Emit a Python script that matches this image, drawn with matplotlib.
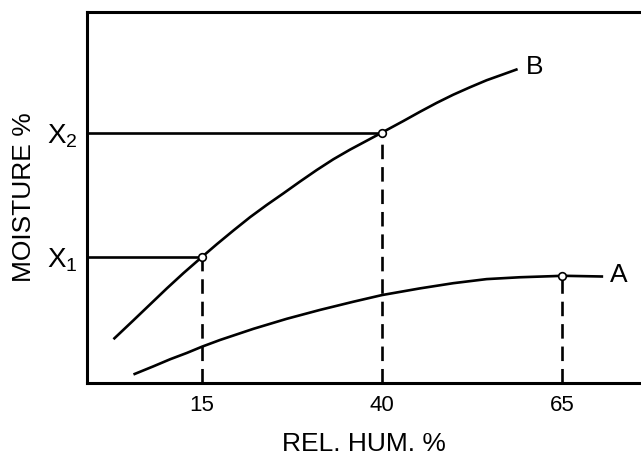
import matplotlib.pyplot as plt
import numpy as np

# Curvas (umidade relativa x umidade do material)
rh_b = [2.68, 5.46, 7.78, 10.10, 12.40, 15.0, 17.04, 19.35, 21.67, 23.99,
        26.29, 28.61, 30.93, 33.24, 35.56, 37.88, 40.0, 42.96, 45.28,
        47.60, 49.90, 52.22, 54.54, 56.85, 58.85]
moist_b = [1.18, 1.69, 2.12, 2.55, 2.96, 3.40, 3.74, 4.11, 4.47, 4.80,
           5.11, 5.43, 5.74, 6.03, 6.29, 6.53, 6.75, 7.06, 7.31,
           7.55, 7.77, 7.97, 8.16, 8.32, 8.46]

rh_a = [5.46, 8.24, 10.56, 12.88, 15.0, 17.5, 22.13, 26.76, 31.39, 36.01,
        40.0, 45.28, 49.90, 54.54, 59.17, 63.79, 65.0, 70.74]
moist_a = [0.23, 0.45, 0.64, 0.81, 0.98, 1.16, 1.46, 1.73, 1.97, 2.19,
           2.37, 2.55, 2.69, 2.80, 2.85, 2.88, 2.89, 2.87]

# Pontos marcados
pt_rh = [15, 40, 65]
pt_moist = [3.40, 6.75, 2.89]

x_ticks = [15, 40, 65]
y_ticks = [3.40, 6.75]
y_labels = [r"$\mathregular{X_1}$", r"$\mathregular{X_2}$"]

plt.rcParams['font.family'] = ['Liberation Sans', 'DejaVu Sans']

fig = plt.figure(figsize=(6.41, 4.54), dpi=100)
ax = fig.add_axes([0.1357, 0.1564, 0.8643, 0.8172])

ax.plot(rh_b, moist_b, 'k-', lw=1.9, solid_capstyle='butt')
ax.plot(rh_a, moist_a, 'k-', lw=1.9, solid_capstyle='butt')

# Linhas horizontais ate X1 e X2
ax.plot([-1, pt_rh[0]], [pt_moist[0], pt_moist[0]], 'k-', lw=1.9)
ax.plot([-1, pt_rh[1]], [pt_moist[1], pt_moist[1]], 'k-', lw=1.9)

# Linhas tracejadas verticais
for x, y in zip(pt_rh, pt_moist):
    ax.plot([x, x], [0, y], 'k', lw=1.9, dashes=(5.5, 3))

ax.plot(pt_rh, pt_moist, 'o', ms=5.5, mfc='white', mec='black', mew=1.2)

ax.text(rh_b[-1] + 1.2, moist_b[-1] + 0.05, "B", fontsize=19, va='center')
ax.text(rh_a[-1] + 1.0, moist_a[-1] + 0.03, "A", fontsize=19, va='center')

ax.set_xlim(-1, 76)
ax.set_ylim(0, 10)
ax.set_xticks(x_ticks)
ax.set_xticklabels([str(t) for t in x_ticks], fontsize=16)
ax.set_yticks(y_ticks)
ax.set_yticklabels(y_labels, fontsize=20)
ax.tick_params(axis='x', length=0, pad=9)
ax.tick_params(axis='y', length=0, pad=7)

for s in ['left', 'bottom', 'top']:
    ax.spines[s].set_linewidth(2.2)
ax.spines['right'].set_visible(False)

ax.set_xlabel("REL. HUM. %", fontsize=19, labelpad=11)
ax.set_ylabel("MOISTURE %", fontsize=19, labelpad=8)

fig.savefig("out.png", dpi=100)
